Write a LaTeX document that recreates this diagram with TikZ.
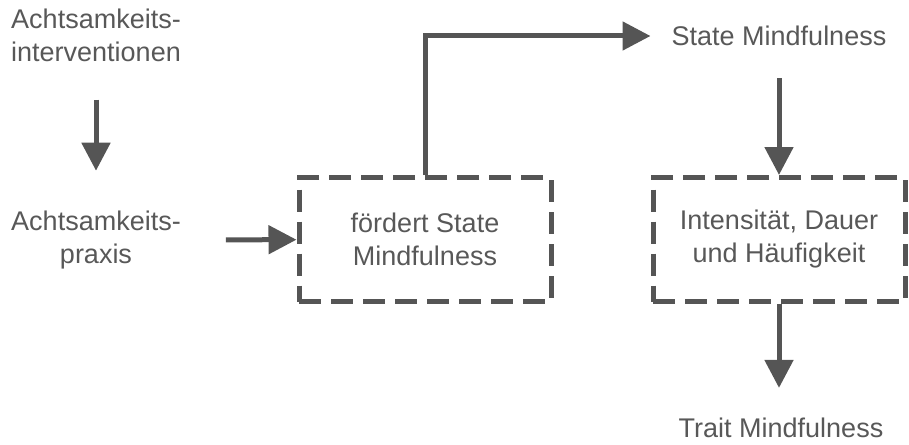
\documentclass[tikz,border=0pt]{standalone}
\usepackage{fontspec}
\setmainfont{Liberation Sans}
\usetikzlibrary{arrows.meta, positioning}
\definecolor{dgray}{HTML}{555555}
\definecolor{tgray}{HTML}{585858}
\tikzset{>={Triangle[length=28pt, width=28pt]}}
\tikzset{
  txt/.style={text=tgray, inner sep=0pt, align=center, font=\fontsize{27}{33}\selectfont},
  dbox/.style={txt, draw=dgray, line width=5pt, dash pattern=on 22pt off 10pt,
    minimum width=252pt, minimum height=124pt},
  arr/.style={->, draw=dgray, line width=5pt}
}
\begin{document}
\begin{tikzpicture}[x=1pt, y=-1pt]
          \useasboundingbox (0, 0) rectangle (909, 444);
          \node[txt] (interv) at (96, 35) {Achtsamkeits-\\interventionen};
          \node[txt] (praxis) at (96, 240) {Achtsamkeits-\\praxis};
          \node[dbox] (foerdert) at (425, 239.5) {fördert State\\Mindfulness};
          \node[txt] (statemf) at (779, 36) {State Mindfulness};
          \node[dbox] (intens) at (779, 239.5) {Intensität, Dauer\\und Häufigkeit};
          \node[txt] (traitmf) at (781, 428) {Trait Mindfulness};
          %\draw[arr] (interv) -- (praxis);
          \draw[arr, shorten <=38pt, shorten >=40pt] (interv) -- (praxis);
          \draw[arr, shorten <=45pt] (praxis) -- (foerdert);
          \draw[arr, shorten >=21pt] (foerdert.north) |- (statemf.west);
          \draw[arr, shorten <=32pt] (statemf) -- (intens);
          \draw[arr, shorten >=30pt] (intens) -- (intens |- traitmf.north);
        \end{tikzpicture}
\end{document}
